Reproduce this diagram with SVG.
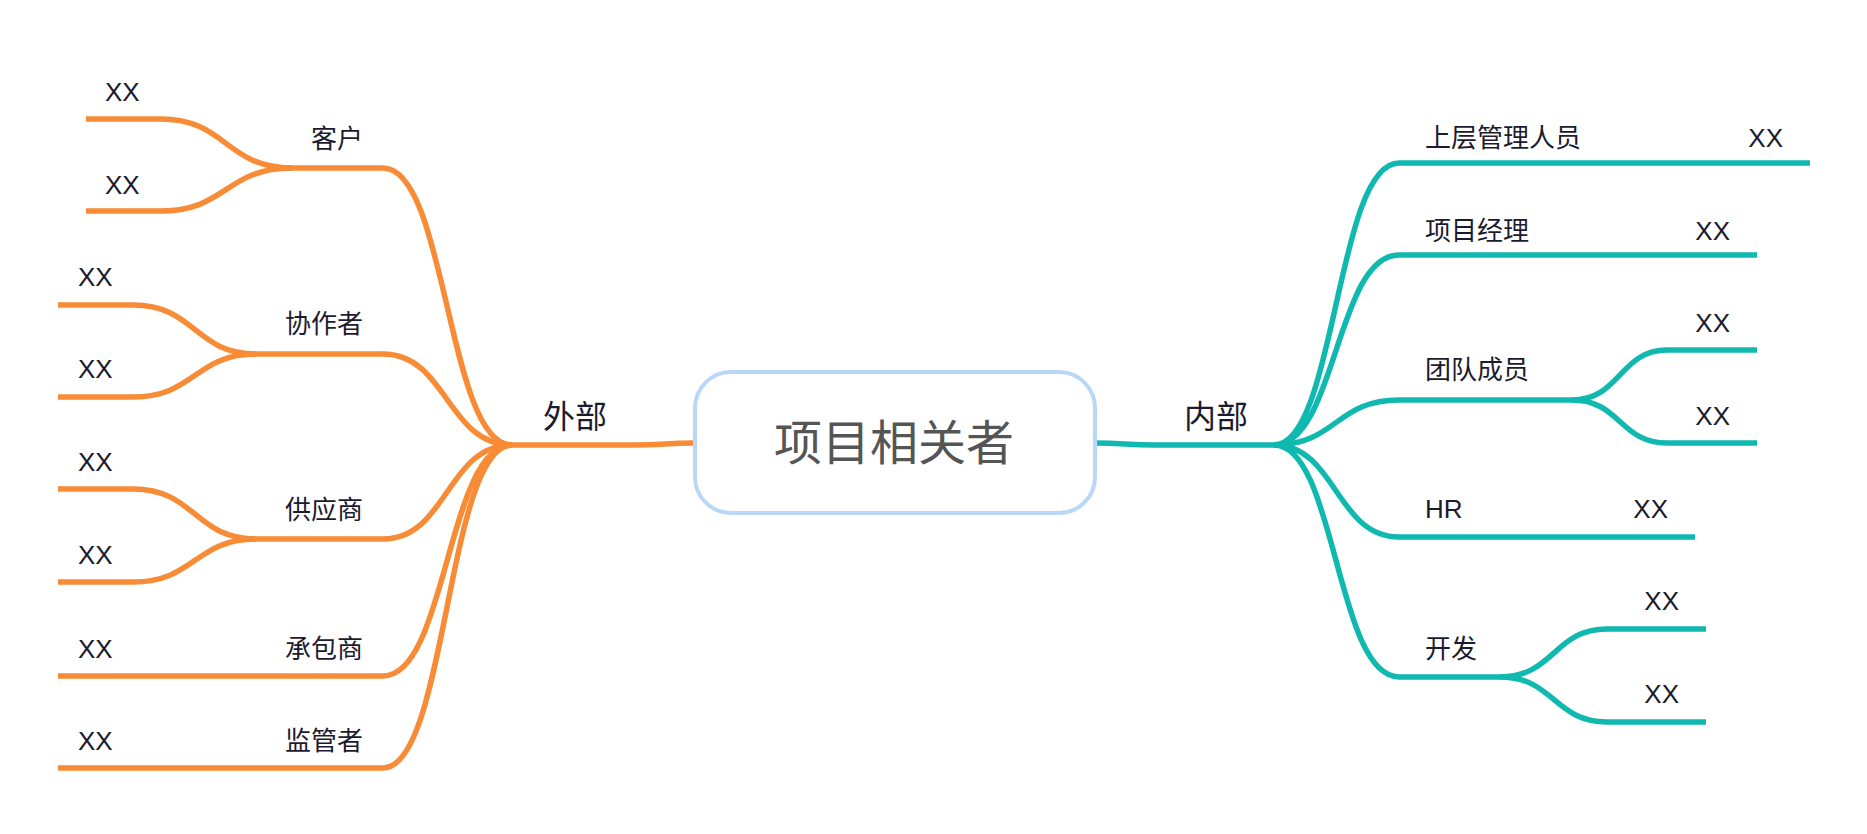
<svg xmlns="http://www.w3.org/2000/svg" width="1867" height="834" viewBox="0 0 1867 834">
<style>
.o{fill:none;stroke:#F88B35;stroke-width:5.5;stroke-linecap:butt}
.t{fill:none;stroke:#10B9B0;stroke-width:5.5;stroke-linecap:butt}
text{font-family:"Liberation Sans","Noto Sans CJK SC",sans-serif;fill:#1C1B2E;font-size:26px}
.big{font-size:32px}
.title{font-size:48px;fill:#555555}
.e{text-anchor:end}
.m{text-anchor:middle}
</style>
<rect width="1867" height="834" fill="#ffffff"/>
<g id="connectors">
<path class="o" d="M694,443 C665,443 665,445 635,445 L512,445"/>
<path class="o" d="M512,445 C447,445 447,168 383,168 L292,168"/>
<path class="o" d="M292,168 C226,168 226,119 161,119 L86,119"/>
<path class="o" d="M292,168 C226,168 226,211 161,211 L86,211"/>
<path class="o" d="M512,445 C447,445 447,354 383,354 L256,354"/>
<path class="o" d="M256,354 C195,354 195,305 133,305 L58,305"/>
<path class="o" d="M256,354 C195,354 195,397 133,397 L58,397"/>
<path class="o" d="M512,445 C447,445 447,539 383,539 L256,539"/>
<path class="o" d="M256,539 C195,539 195,489 133,489 L58,489"/>
<path class="o" d="M256,539 C195,539 195,582 133,582 L58,582"/>
<path class="o" d="M512,445 C447,445 447,676 383,676 L58,676"/>
<path class="o" d="M512,445 C447,445 447,768 383,768 L58,768"/>
<path class="t" d="M1095,443 C1125,443 1125,445 1155,445 L1274,445"/>
<path class="t" d="M1274,445 C1336,445 1336,163 1399,163 L1810,163"/>
<path class="t" d="M1274,445 C1336,445 1336,255 1399,255 L1757,255"/>
<path class="t" d="M1274,445 C1336,445 1336,400 1399,400 L1572,400"/>
<path class="t" d="M1572,400 C1620,400 1620,350 1667,350 L1757,350"/>
<path class="t" d="M1572,400 C1620,400 1620,443 1667,443 L1757,443"/>
<path class="t" d="M1274,445 C1336,445 1336,537 1399,537 L1695,537"/>
<path class="t" d="M1274,445 C1336,445 1336,677 1399,677 L1500,677"/>
<path class="t" d="M1500,677 C1554,677 1554,629 1607,629 L1706,629"/>
<path class="t" d="M1500,677 C1554,677 1554,722 1607,722 L1706,722"/>
</g>
<g id="root">
<rect x="695" y="372" width="400" height="141" rx="36" ry="36" fill="#ffffff" stroke="#BAD7F8" stroke-width="4"/>
<text class="title m" x="894" y="460">项目相关者</text>
</g>
<g id="external"><text class="big m" x="575" y="428">外部</text></g>
<g id="internal"><text class="big m" x="1216" y="428">内部</text></g>
<g id="customer">
<text class="e" x="363" y="148">客户</text>
<text x="105" y="101">XX</text>
<text x="105" y="194">XX</text>
</g>
<g id="collaborator">
<text class="e" x="363" y="333">协作者</text>
<text x="78" y="286">XX</text>
<text x="78" y="378">XX</text>
</g>
<g id="supplier">
<text class="e" x="363" y="519">供应商</text>
<text x="78" y="471">XX</text>
<text x="78" y="564">XX</text>
</g>
<g id="contractor">
<text class="e" x="363" y="658">承包商</text>
<text x="78" y="658">XX</text>
</g>
<g id="regulator">
<text class="e" x="363" y="750">监管者</text>
<text x="78" y="750">XX</text>
</g>
<g id="senior-management">
<text x="1425" y="147">上层管理人员</text>
<text class="e" x="1783" y="147">XX</text>
</g>
<g id="project-manager">
<text x="1425" y="240">项目经理</text>
<text class="e" x="1730" y="240">XX</text>
</g>
<g id="team-members">
<text x="1425" y="379">团队成员</text>
<text class="e" x="1730" y="332">XX</text>
<text class="e" x="1730" y="425">XX</text>
</g>
<g id="hr">
<text x="1425" y="518">HR</text>
<text class="e" x="1668" y="518">XX</text>
</g>
<g id="development">
<text x="1425" y="658">开发</text>
<text class="e" x="1679" y="610">XX</text>
<text class="e" x="1679" y="703">XX</text>
</g>
</svg>
